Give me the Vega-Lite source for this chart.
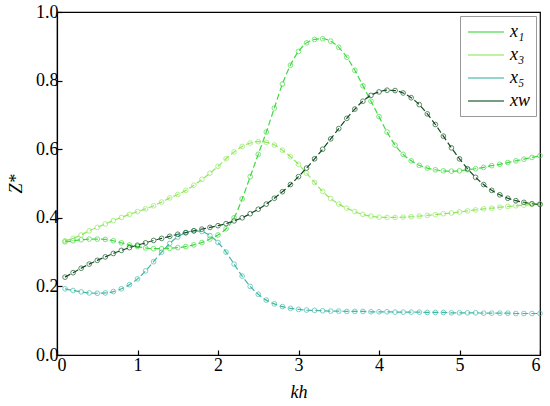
{
  "$schema": "https://vega.github.io/schema/vega-lite/v6.json",
  "width": 483,
  "height": 343,
  "autosize": "none",
  "padding": {"left": 57, "top": 12, "right": 10, "bottom": 51},
  "background": "white",
  "config": {
    "view": {"stroke": "black", "strokeWidth": 1.2},
    "axis": {"grid": false, "domainColor": "black", "tickColor": "black", "labelColor": "black", "titleColor": "black", "labelFont": "Liberation Serif", "titleFont": "Liberation Serif", "labelFontSize": 18, "titleFontSize": 18, "titleFontWeight": "normal", "titleFontStyle": "italic", "tickSize": -5, "domainWidth": 1.2, "tickWidth": 1.2}
  },
  "data": {
    "values": [
      {"kh":0.1,"x1":0.330,"x3":0.333,"x5":0.193,"xw":0.227},
      {"kh":0.2,"x1":0.333,"x3":0.340,"x5":0.188,"xw":0.240},
      {"kh":0.3,"x1":0.336,"x3":0.350,"x5":0.184,"xw":0.253},
      {"kh":0.4,"x1":0.338,"x3":0.362,"x5":0.181,"xw":0.265},
      {"kh":0.5,"x1":0.338,"x3":0.372,"x5":0.180,"xw":0.276},
      {"kh":0.6,"x1":0.337,"x3":0.382,"x5":0.181,"xw":0.286},
      {"kh":0.7,"x1":0.333,"x3":0.392,"x5":0.185,"xw":0.296},
      {"kh":0.8,"x1":0.327,"x3":0.401,"x5":0.193,"xw":0.305},
      {"kh":0.9,"x1":0.321,"x3":0.410,"x5":0.205,"xw":0.313},
      {"kh":1.0,"x1":0.316,"x3":0.418,"x5":0.222,"xw":0.320},
      {"kh":1.1,"x1":0.312,"x3":0.426,"x5":0.245,"xw":0.327},
      {"kh":1.2,"x1":0.310,"x3":0.435,"x5":0.272,"xw":0.334},
      {"kh":1.3,"x1":0.310,"x3":0.446,"x5":0.300,"xw":0.340},
      {"kh":1.4,"x1":0.311,"x3":0.458,"x5":0.325,"xw":0.346},
      {"kh":1.5,"x1":0.313,"x3":0.468,"x5":0.344,"xw":0.352},
      {"kh":1.6,"x1":0.316,"x3":0.480,"x5":0.356,"xw":0.357},
      {"kh":1.7,"x1":0.321,"x3":0.495,"x5":0.362,"xw":0.362},
      {"kh":1.8,"x1":0.328,"x3":0.512,"x5":0.360,"xw":0.367},
      {"kh":1.9,"x1":0.338,"x3":0.530,"x5":0.348,"xw":0.372},
      {"kh":2.0,"x1":0.350,"x3":0.550,"x5":0.328,"xw":0.377},
      {"kh":2.1,"x1":0.368,"x3":0.572,"x5":0.300,"xw":0.383},
      {"kh":2.2,"x1":0.400,"x3":0.592,"x5":0.265,"xw":0.391},
      {"kh":2.3,"x1":0.455,"x3":0.608,"x5":0.230,"xw":0.400},
      {"kh":2.4,"x1":0.520,"x3":0.618,"x5":0.200,"xw":0.412},
      {"kh":2.5,"x1":0.585,"x3":0.622,"x5":0.177,"xw":0.425},
      {"kh":2.6,"x1":0.650,"x3":0.620,"x5":0.160,"xw":0.440},
      {"kh":2.7,"x1":0.720,"x3":0.612,"x5":0.149,"xw":0.457},
      {"kh":2.8,"x1":0.790,"x3":0.597,"x5":0.141,"xw":0.476},
      {"kh":2.9,"x1":0.845,"x3":0.578,"x5":0.136,"xw":0.497},
      {"kh":3.0,"x1":0.885,"x3":0.556,"x5":0.133,"xw":0.520},
      {"kh":3.1,"x1":0.910,"x3":0.530,"x5":0.131,"xw":0.545},
      {"kh":3.2,"x1":0.920,"x3":0.503,"x5":0.130,"xw":0.572},
      {"kh":3.3,"x1":0.922,"x3":0.477,"x5":0.129,"xw":0.600},
      {"kh":3.4,"x1":0.915,"x3":0.456,"x5":0.128,"xw":0.630},
      {"kh":3.5,"x1":0.897,"x3":0.440,"x5":0.128,"xw":0.660},
      {"kh":3.6,"x1":0.868,"x3":0.428,"x5":0.127,"xw":0.690},
      {"kh":3.7,"x1":0.830,"x3":0.418,"x5":0.127,"xw":0.717},
      {"kh":3.8,"x1":0.785,"x3":0.410,"x5":0.127,"xw":0.740},
      {"kh":3.9,"x1":0.740,"x3":0.405,"x5":0.126,"xw":0.757},
      {"kh":4.0,"x1":0.695,"x3":0.402,"x5":0.126,"xw":0.767},
      {"kh":4.1,"x1":0.650,"x3":0.401,"x5":0.126,"xw":0.772},
      {"kh":4.2,"x1":0.612,"x3":0.401,"x5":0.125,"xw":0.771},
      {"kh":4.3,"x1":0.585,"x3":0.402,"x5":0.125,"xw":0.764},
      {"kh":4.4,"x1":0.566,"x3":0.403,"x5":0.125,"xw":0.750},
      {"kh":4.5,"x1":0.553,"x3":0.405,"x5":0.125,"xw":0.730},
      {"kh":4.6,"x1":0.545,"x3":0.407,"x5":0.124,"xw":0.703},
      {"kh":4.7,"x1":0.540,"x3":0.409,"x5":0.124,"xw":0.672},
      {"kh":4.8,"x1":0.537,"x3":0.412,"x5":0.124,"xw":0.638},
      {"kh":4.9,"x1":0.536,"x3":0.414,"x5":0.123,"xw":0.604},
      {"kh":5.0,"x1":0.537,"x3":0.417,"x5":0.123,"xw":0.572},
      {"kh":5.1,"x1":0.540,"x3":0.420,"x5":0.123,"xw":0.543},
      {"kh":5.2,"x1":0.543,"x3":0.423,"x5":0.123,"xw":0.518},
      {"kh":5.3,"x1":0.547,"x3":0.426,"x5":0.122,"xw":0.497},
      {"kh":5.4,"x1":0.552,"x3":0.428,"x5":0.122,"xw":0.480},
      {"kh":5.5,"x1":0.556,"x3":0.431,"x5":0.122,"xw":0.467},
      {"kh":5.6,"x1":0.561,"x3":0.433,"x5":0.122,"xw":0.457},
      {"kh":5.7,"x1":0.566,"x3":0.435,"x5":0.121,"xw":0.450},
      {"kh":5.8,"x1":0.571,"x3":0.437,"x5":0.121,"xw":0.445},
      {"kh":5.9,"x1":0.576,"x3":0.439,"x5":0.121,"xw":0.441},
      {"kh":6.0,"x1":0.581,"x3":0.441,"x5":0.121,"xw":0.439}
    ]
  },
  "transform": [{"fold": ["x1", "x3", "x5", "xw"], "as": ["series", "z"]}],
  "encoding": {
    "x": {"field": "kh", "type": "quantitative", "scale": {"domain": [0, 6], "nice": false}, "axis": {"values": [0,1,2,3,4,5,6], "title": "kh", "titlePadding": 9, "labelPadding": 6}},
    "y": {"field": "z", "type": "quantitative", "scale": {"domain": [0, 1], "nice": false}, "axis": {"values": [0,0.2,0.4,0.6,0.8,1.0], "format": ".1f", "title": "Z*", "titlePadding": 10, "labelPadding": 4}},
    "color": {"field": "series", "type": "nominal",
      "scale": {"domain": ["x1", "x3", "x5", "xw"], "range": ["#3fd83f", "#8ee85a", "#3fb8a6", "#0f4f1f"]},
      "legend": {"title": null, "orient": "top-right", "offset": 4, "symbolType": "M-2,0H2", "symbolStrokeWidth": 1.5, "symbolSize": 324, "symbolOffset": 10, "labelOffset": 14, "labelFont": "Liberation Serif", "labelFontStyle": "italic", "labelFontSize": 18, "labelColor": "black", "rowPadding": 4, "padding": 6, "strokeColor": "#999999", "fillColor": "white",
        "labelExpr": "datum.value == 'x1' ? 'x₁' : datum.value == 'x3' ? 'x₃' : datum.value == 'x5' ? 'x₅' : 'xw'"}
    }
  },
  "layer": [
    {"mark": {"type": "line", "strokeWidth": 1.2, "strokeDash": [6, 3], "interpolate": "monotone"}},
    {"mark": {"type": "point", "filled": false, "size": 22, "strokeWidth": 0.9, "opacity": 0.75}}
  ]
}
